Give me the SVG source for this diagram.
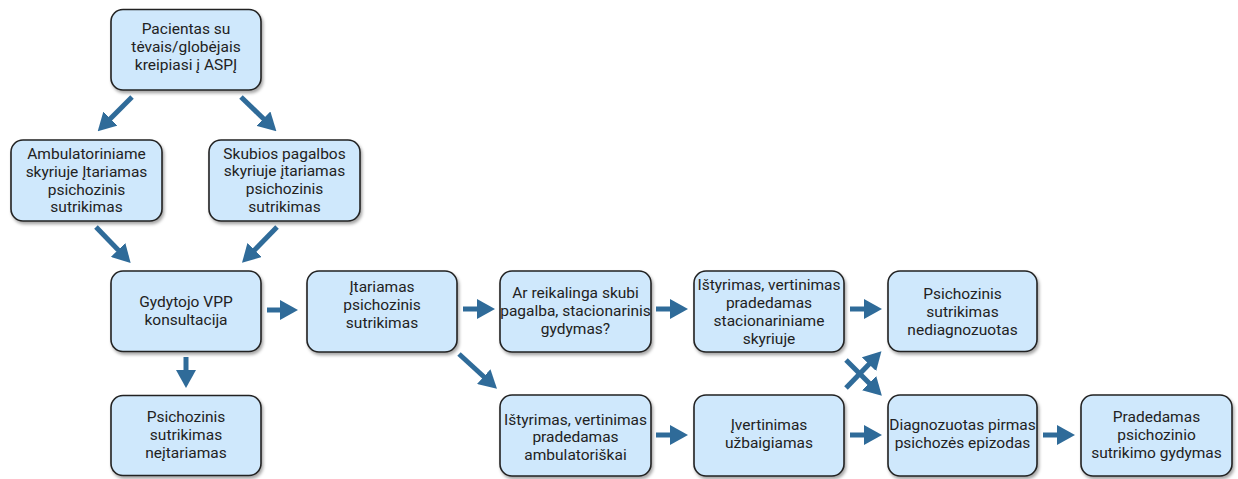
<svg xmlns="http://www.w3.org/2000/svg" width="1238" height="479" viewBox="0 0 1238 479">
<style>
.box{fill:#cfe8fc;stroke:#222;stroke-width:1.6;filter:url(#sh)}
.t{font-family:Roboto,"Liberation Sans",sans-serif;font-size:15.5px;fill:#222;text-anchor:middle}
.c{stroke:#2f6b99;stroke-width:5;fill:none;marker-end:url(#ah)}
</style>
<defs>
<filter id="sh" x="-10%" y="-10%" width="130%" height="140%">
<feDropShadow dx="1.5" dy="2.5" stdDeviation="1.8" flood-color="#000" flood-opacity="0.35"/>
</filter>
<marker id="ah" viewBox="0 0 18 20" refX="8" refY="10" markerWidth="18" markerHeight="20" markerUnits="userSpaceOnUse" orient="auto">
<path d="M0,0 L18,10 L0,20 z" fill="#2f6b99"/>
</marker>
</defs>
<g id="connectors">
<line class="c" x1="132" y1="97" x2="104.8" y2="124.2"/>
<line class="c" x1="241" y1="97" x2="269.2" y2="124.2"/>
<line class="c" x1="96" y1="227" x2="123.7" y2="255.7"/>
<line class="c" x1="277" y1="227" x2="249" y2="255.7"/>
<line class="c" x1="186" y1="357" x2="186" y2="378"/>
<line class="c" x1="267" y1="310" x2="288" y2="310"/>
<line class="c" x1="463" y1="309" x2="485" y2="309"/>
<line class="c" x1="459" y1="354" x2="489.6" y2="382"/>
<line class="c" x1="656" y1="309" x2="678" y2="309"/>
<line class="c" x1="850" y1="309" x2="872" y2="309"/>
<line class="c" x1="846" y1="388" x2="874.5" y2="358.4"/>
<line class="c" x1="846" y1="360" x2="874.8" y2="388.7"/>
<line class="c" x1="656" y1="435" x2="678" y2="435"/>
<line class="c" x1="850" y1="435" x2="872" y2="435"/>
<line class="c" x1="1043" y1="435" x2="1065" y2="435"/>
</g>
<g id="n1"><rect class="box" x="111" y="9.5" width="150" height="80.5" rx="12"/>
<text class="t" x="186" y="33.5">Pacientas su<tspan x="186" dy="18">tėvais/globėjais</tspan><tspan x="186" dy="18">kreipiasi į ASPĮ</tspan></text></g>
<g id="n2"><rect class="box" x="11" y="140" width="151" height="81" rx="12"/>
<text class="t" x="86.5" y="159">Ambulatoriniame<tspan x="86.5" dy="17.8">skyriuje Įtariamas</tspan><tspan x="86.5" dy="17.8">psichozinis</tspan><tspan x="86.5" dy="17.8">sutrikimas</tspan></text></g>
<g id="n3"><rect class="box" x="209" y="140" width="151" height="81" rx="12"/>
<text class="t" x="284.5" y="158.5">Skubios pagalbos<tspan x="284.5" dy="17.8">skyriuje įtariamas</tspan><tspan x="284.5" dy="17.8">psichozinis</tspan><tspan x="284.5" dy="17.8">sutrikimas</tspan></text></g>
<g id="n4"><rect class="box" x="111" y="271" width="150" height="80.5" rx="12"/>
<text class="t" x="186" y="307">Gydytojo VPP<tspan x="186" dy="18">konsultacija</tspan></text></g>
<g id="n5"><rect class="box" x="111" y="395.5" width="150" height="80" rx="12"/>
<text class="t" x="186" y="422">Psichozinis<tspan x="186" dy="18">sutrikimas</tspan><tspan x="186" dy="18">neįtariamas</tspan></text></g>
<g id="n6"><rect class="box" x="307" y="271" width="150" height="81" rx="12"/>
<text class="t" x="382" y="292">Įtariamas<tspan x="382" dy="18">psichozinis</tspan><tspan x="382" dy="18">sutrikimas</tspan></text></g>
<g id="n7"><rect class="box" x="500" y="271" width="151" height="81" rx="12"/>
<text class="t" x="575.5" y="297.5">Ar reikalinga skubi<tspan x="575.5" dy="18">pagalba, stacionarinis</tspan><tspan x="575.5" dy="18">gydymas?</tspan></text></g>
<g id="n8"><rect class="box" x="500" y="395" width="151" height="81" rx="12"/>
<text class="t" x="575.5" y="424.5">Ištyrimas, vertinimas<tspan x="575.5" dy="17.7">pradedamas</tspan><tspan x="575.5" dy="17.7">ambulatoriškai</tspan></text></g>
<g id="n9"><rect class="box" x="694" y="271" width="150" height="81" rx="12"/>
<text class="t" x="769" y="290">Ištyrimas, vertinimas<tspan x="769" dy="18">pradedamas</tspan><tspan x="769" dy="18">stacionariniame</tspan><tspan x="769" dy="18">skyriuje</tspan></text></g>
<g id="n10"><rect class="box" x="694" y="395" width="150" height="81" rx="12"/>
<text class="t" x="769" y="430">Įvertinimas<tspan x="769" dy="18">užbaigiamas</tspan></text></g>
<g id="n11"><rect class="box" x="888" y="271" width="149" height="80.5" rx="12"/>
<text class="t" x="962.5" y="298.5">Psichozinis<tspan x="962.5" dy="18">sutrikimas</tspan><tspan x="962.5" dy="18">nediagnozuotas</tspan></text></g>
<g id="n12"><rect class="box" x="888" y="395" width="149" height="81" rx="12"/>
<text class="t" x="962.5" y="430">Diagnozuotas pirmas<tspan x="962.5" dy="18">psichozės epizodas</tspan></text></g>
<g id="n13"><rect class="box" x="1081" y="395" width="151" height="81" rx="12"/>
<text class="t" x="1156.5" y="421.5">Pradedamas<tspan x="1156.5" dy="18">psichozinio</tspan><tspan x="1156.5" dy="18">sutrikimo gydymas</tspan></text></g>
</svg>
